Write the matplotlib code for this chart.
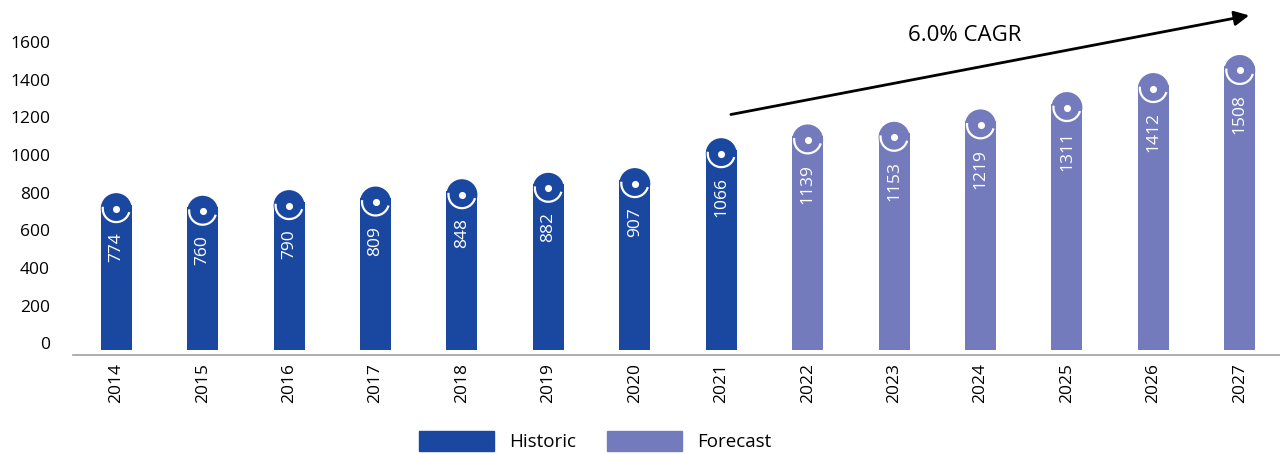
import numpy as np
import matplotlib
matplotlib.use("Agg")
import matplotlib.pyplot as plt
from matplotlib.patches import Patch
from matplotlib.path import Path
from matplotlib.transforms import ScaledTranslation

plt.rcParams['font.family'] = ['Open Sans', 'DejaVu Sans']

years = ['2014', '2015', '2016', '2017', '2018', '2019', '2020',
         '2021', '2022', '2023', '2024', '2025', '2026', '2027']
values = [774, 760, 790, 809, 848, 882, 907, 1066, 1139, 1153, 1219, 1311, 1412, 1508]
is_forecast = [False] * 8 + [True] * 6
yticks = [0, 200, 400, 600, 800, 1000, 1200, 1400, 1600]
cagr_label = '6.0% CAGR'

c_hist = '#1a47a0'
c_fore = '#737bbc'

fig = plt.figure(figsize=(12.8, 4.54), dpi=100)
ax = fig.add_axes([73 / 1280, 99 / 454, 1210 / 1280, 345 / 454])

x = np.arange(len(years))
colors = [c_fore if f else c_hist for f in is_forecast]
ax.bar(x, values, width=0.358, color=colors, zorder=2)

# cap circle on top of each bar, a bit below the bar top
down = ScaledTranslation(0, -4 / 100, fig.dpi_scale_trans)
tr = ax.transData + down
ax.scatter(x, values, s=497, c=colors, transform=tr, zorder=3, linewidths=0, clip_on=False)
arc = Path.arc(172, 345)
ax.scatter(x, values, s=400, marker=arc, facecolors='none', edgecolors='white',
           linewidths=1.6, transform=tr, zorder=4, clip_on=False)
ax.scatter(x, values, s=26, c='white', transform=tr, zorder=5, linewidths=0, clip_on=False)

for xi, v in zip(x, values):
    ax.annotate(str(v), (xi, v), xytext=(0, -20), textcoords='offset points',
                rotation=90, ha='center', va='top', color='white', fontsize=12.5, zorder=6)

ax.set_xlim(-0.5, 13.5)
ax.set_ylim(-25, 1808)
ax.set_yticks(yticks)
ax.set_xticks(x)
ax.set_xticklabels(years, rotation=90, fontsize=12.5)
ax.tick_params(axis='y', length=0, pad=16.5, labelsize=12.5)
ax.tick_params(axis='x', length=0, pad=6)
for lab in ax.get_yticklabels():
    lab.set_transform(lab.get_transform() + ScaledTranslation(0, 7 / 100, fig.dpi_scale_trans))
for s in ['top', 'right', 'left']:
    ax.spines[s].set_visible(False)
ax.spines['bottom'].set_color('#a0a0a0')
ax.spines['bottom'].set_linewidth(1.2)

# CAGR arrow
ax.annotate('', xy=(13.14, 1782), xytext=(7.08, 1250),
            arrowprops=dict(arrowstyle='-|>', color='black', lw=2, mutation_scale=22),
            annotation_clip=False)
ax.text(9.82, 1675, cagr_label, ha='center', va='center', fontsize=16)

handles = [Patch(color=c_hist, label='Historic'), Patch(color=c_fore, label='Forecast')]
fig.legend(handles=handles, loc='center', bbox_to_anchor=(0.465, 0.029), ncol=2,
           frameon=False, fontsize=13.5, handlelength=4.0, handleheight=1.3,
           handletextpad=0.85, columnspacing=1.6)

fig.savefig('out.png', dpi=100)
